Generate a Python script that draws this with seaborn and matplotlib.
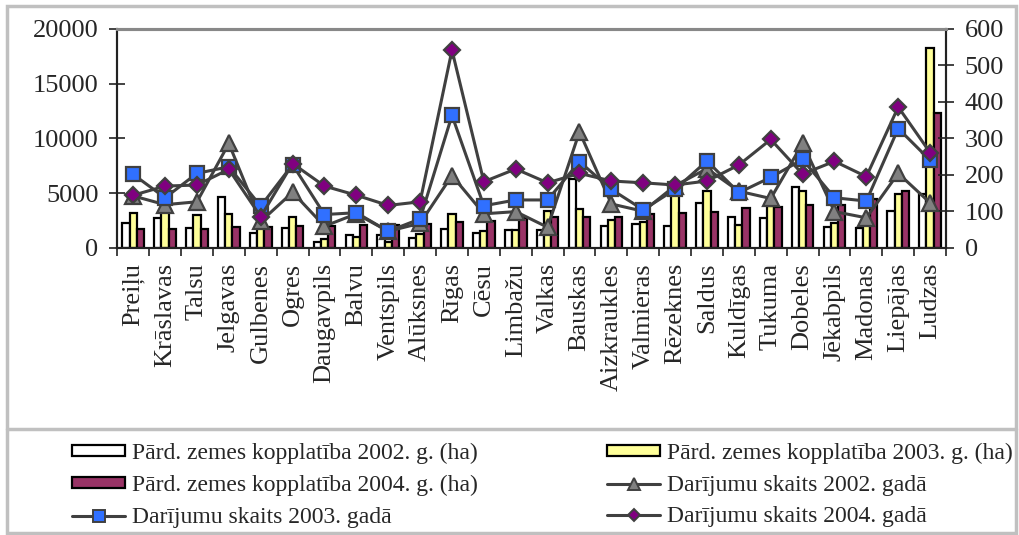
import numpy as np
import pandas as pd
import matplotlib
matplotlib.use('Agg')
import matplotlib.pyplot as plt
import seaborn as sns
from matplotlib.patches import Patch, Rectangle
from matplotlib.lines import Line2D

sns.set_theme(style='white')
plt.rcParams['font.family'] = ['Liberation Serif', 'DejaVu Serif']

# Datu sagatavošana
regioni = ['Preiļu', 'Krāslavas', 'Talsu', 'Jelgavas', 'Gulbenes', 'Ogres',
           'Daugavpils', 'Balvu', 'Ventspils', 'Alūksnes', 'Rīgas', 'Cēsu',
           'Limbažu', 'Valkas', 'Bauskas', 'Aizkraukles', 'Valmieras',
           'Rēzeknes', 'Saldus', 'Kuldīgas', 'Tukuma', 'Dobeles', 'Jēkabpils',
           'Madonas', 'Liepājas', 'Ludzas']

platiba_2002 = [2250, 2700, 1830, 4650, 1370, 1790, 490, 1120, 1120, 910,
                1670, 1370, 1580, 1580, 6300, 1950, 2130, 2000, 4100, 2800,
                2740, 5530, 1880, 1800, 3400, 4870]
platiba_2003 = [3130, 3450, 2950, 3100, 1800, 2770, 760, 1000, 550, 1280,
                3100, 1550, 1580, 3400, 3560, 2520, 2340, 5100, 5140, 2100,
                3770, 5140, 2250, 2300, 4870, 18300]
platiba_2004 = [1730, 1730, 1730, 1850, 1900, 1950, 1970, 2100, 2100, 2190,
                2370, 2470, 2700, 2770, 2770, 2830, 3100, 3160, 3220, 3650,
                3700, 3890, 3950, 4450, 5230, 12330]

darijumi_2002 = [142, 118, 126, 286, 72, 152, 59, 93, 45, 67, 198, 93, 99,
                 56, 318, 120, 100, 170, 217, 155, 135, 286, 99, 82, 204, 123]
darijumi_2003 = [201, 137, 204, 222, 114, 228, 91, 96, 45, 79, 363, 115, 131,
                 131, 236, 160, 104, 160, 238, 151, 193, 242, 137, 128, 327, 240]
darijumi_2004 = [144, 169, 172, 215, 85, 231, 169, 144, 116, 126, 542, 181,
                 216, 178, 204, 183, 178, 172, 183, 227, 297, 202, 237, 195,
                 386, 261]

nos_bar = ['Pārd. zemes kopplatība 2002. g. (ha)',
           'Pārd. zemes kopplatība 2003. g. (ha)',
           'Pārd. zemes kopplatība 2004. g. (ha)']
nos_lin = ['Darījumu skaits 2002. gadā',
           'Darījumu skaits 2003. gadā',
           'Darījumu skaits 2004. gadā']

df = pd.concat([
    pd.DataFrame({'regions': regioni, 'serija': nos_bar[0], 'ha': platiba_2002}),
    pd.DataFrame({'regions': regioni, 'serija': nos_bar[1], 'ha': platiba_2003}),
    pd.DataFrame({'regions': regioni, 'serija': nos_bar[2], 'ha': platiba_2004}),
])

krasas_bar = ['#ffffff', '#ffff99', '#993366']
lin_krasa = '#404040'
marker_stili = [('^', '#808080', 11), ('s', '#3070ff', 10), ('D', '#800080', 8)]

fig = plt.figure(figsize=(10.19, 5.35), dpi=100)
ax = fig.add_axes([0.1151, 0.537, 0.8133, 0.4088])

sns.barplot(data=df, x='regions', y='ha', hue='serija', order=regioni,
            hue_order=nos_bar, palette=krasas_bar, saturation=1, width=0.68,
            edgecolor='black', linewidth=1.6, legend=False, ax=ax)

ax2 = ax.twinx()
x = np.arange(len(regioni))
for vert, (m, fc, ms) in zip([darijumi_2002, darijumi_2003, darijumi_2004], marker_stili):
    sns.lineplot(x=x, y=vert, ax=ax2, color=lin_krasa, linewidth=2.2,
                 marker=m, markersize=ms, markerfacecolor=fc,
                 markeredgecolor=lin_krasa, markeredgewidth=1.6)

ax.set_xlim(-0.5, len(regioni) - 0.5)
ax.set_ylim(0, 20000)
ax.set_yticks(range(0, 20001, 5000))
ax2.set_ylim(0, 600)
ax2.set_yticks(range(0, 601, 100))
ax.set_xlabel('')
ax.set_ylabel('')
ax2.set_xlabel('')
ax2.set_ylabel('')

ax.set_xticks(x)
ax.set_xticklabels(regioni, rotation=90)
ax.set_xticks(np.arange(-0.5, len(regioni), 1), minor=True)
ax.tick_params(axis='x', which='major', length=0, pad=11, labelsize=19)
ax.tick_params(axis='x', which='minor', length=6, width=1.2, direction='out',
               color='#222222', bottom=True)
ax.tick_params(axis='y', direction='inout', length=11, width=1.2, pad=8,
               labelsize=19, color='#222222', left=True)
ax2.tick_params(axis='y', direction='inout', length=11, width=1.2, pad=8,
                labelsize=19, color='#222222', right=True)

for a in (ax, ax2):
    for s in ['left', 'right', 'bottom']:
        a.spines[s].set_color('#222222')
        a.spines[s].set_linewidth(1.5)
    a.spines['top'].set_color('#888888')
    a.spines['top'].set_linewidth(2.2)

# Leģenda divās kolonnās
h_bar = [Patch(facecolor=c, edgecolor='black', linewidth=1.6) for c in krasas_bar]
h_lin = [Line2D([], [], color=lin_krasa, linewidth=2.2, marker=m, markersize=ms * 0.8,
                markerfacecolor=fc, markeredgecolor=lin_krasa, markeredgewidth=1.4)
         for m, fc, ms in marker_stili]

leg_kw = dict(loc='upper left', frameon=False, fontsize=17, borderpad=0,
              borderaxespad=0, handlelength=2.25, handleheight=0.35,
              handletextpad=0.3, labelspacing=0.45)
fig.legend([h_bar[0], h_bar[2], h_lin[1]], [nos_bar[0], nos_bar[2], nos_lin[1]],
           bbox_to_anchor=(72 / 1019, 1 - 443 / 535), **leg_kw)
fig.legend([h_bar[1], h_lin[0], h_lin[2]], [nos_bar[1], nos_lin[0], nos_lin[2]],
           bbox_to_anchor=(607 / 1019, 1 - 443 / 535), **leg_kw)

# Ārējais rāmis un leģendas atdalītājs
fig.patches.append(Rectangle((7 / 1019, 2 / 535), 1009 / 1019, 527 / 535,
                             transform=fig.transFigure, fill=False,
                             edgecolor='#c0c0c0', linewidth=2.5))
fig.lines.append(Line2D([7 / 1019, 1016 / 1019], [1 - 429 / 535, 1 - 429 / 535],
                        transform=fig.transFigure, color='#c0c0c0', linewidth=2.5))

fig.savefig('out.png', dpi=100)
